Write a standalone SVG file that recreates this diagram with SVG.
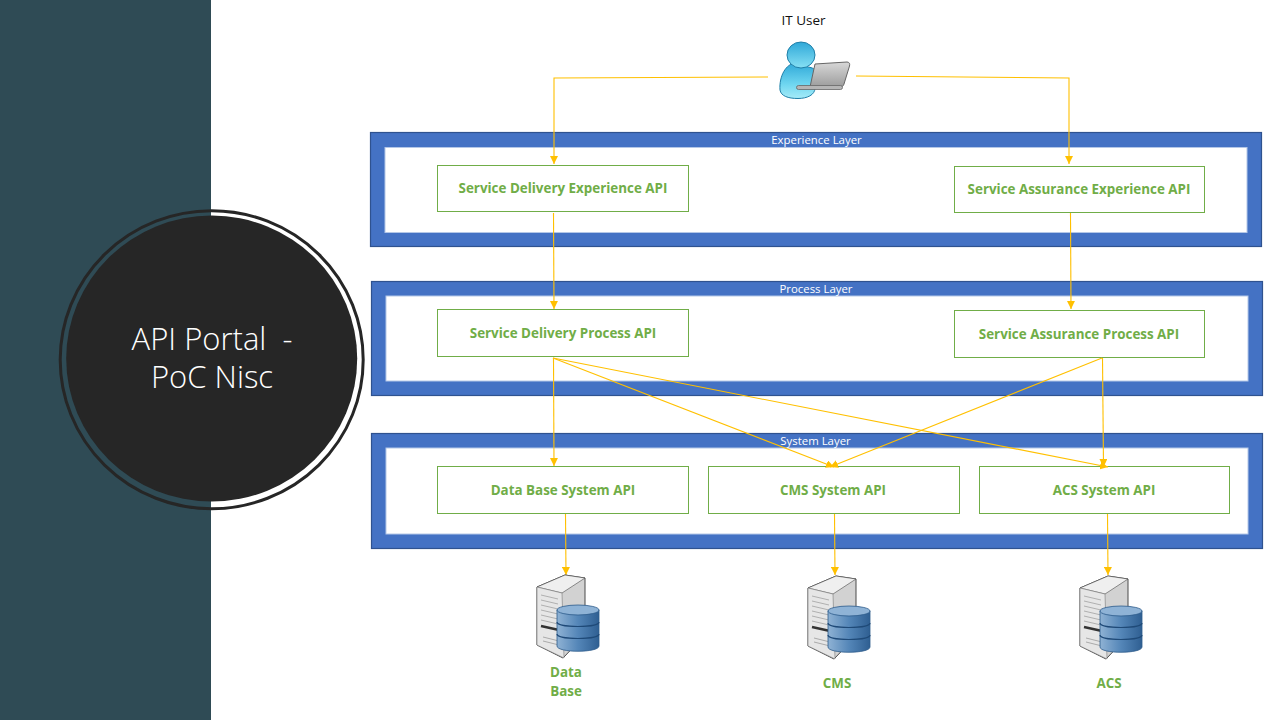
<svg xmlns="http://www.w3.org/2000/svg" width="1280" height="720" viewBox="0 0 1280 720">
<style>
.layer{fill:#4472c4;stroke:#2f528f;stroke-width:1.2}
.inner{fill:#fff;stroke:#b4c7e7;stroke-width:1}
.api{fill:#fff;stroke:#70ad47;stroke-width:1}
.lt{font:400 11.400px "Open Sans","Noto Sans",sans-serif;fill:#fff;text-anchor:middle}
.gt{font:700 13.400px "Open Sans","Noto Sans",sans-serif;fill:#70ad47;text-anchor:middle}
.c{fill:none;stroke:#ffc000;stroke-width:1.100}
</style>
<defs>
<marker id="a" markerUnits="userSpaceOnUse" markerWidth="9" markerHeight="8" refX="8" refY="4" orient="auto"><path d="M0 0L8 4L0 8z" fill="#ffc000"/></marker>
<linearGradient id="body" x1="0" y1="0" x2="0" y2="1"><stop offset="0" stop-color="#2fa8d8"/><stop offset=".6" stop-color="#6fd6f0"/><stop offset="1" stop-color="#a5ebf8"/></linearGradient>
<linearGradient id="head" x1="0" y1="0" x2="0" y2="1"><stop offset="0" stop-color="#2fa8d8"/><stop offset="1" stop-color="#86e0f4"/></linearGradient>
<linearGradient id="lap" x1="0" y1="0" x2="0" y2="1"><stop offset="0" stop-color="#d8d8d8"/><stop offset="1" stop-color="#9c9c9c"/></linearGradient>
<linearGradient id="disk" x1="0" y1="0" x2="1" y2="0"><stop offset="0" stop-color="#8fb2d4"/><stop offset=".5" stop-color="#5486b8"/><stop offset="1" stop-color="#2f5f92"/></linearGradient>
<g id="server">
<path d="M2 12L30 0L50 3L50 60L28 83L2 70z" fill="#d2d2d2" stroke="#4a4a4a" stroke-width="1"/>
<path d="M2 12L30 0L50 3L27 18z" fill="#efefef" stroke="#4a4a4a" stroke-width=".6"/>
<path d="M2 12L27 18L29 83L2 70z" fill="#e6e6e6" stroke="#777" stroke-width=".6"/>
<path d="M6 20L23 24M6 25L23 29M6 30L23 34M6 35L23 39M6 40L23 44M6 45L23 49" stroke="#b0b0b0" fill="none"/>
<path d="M6 51L24 55" stroke="#333" stroke-width="2.500" fill="none"/>
<path d="M8 62L24 66M8 66L24 70" stroke="#aaa" fill="none"/>
<g stroke="#2c5a8a" stroke-width=".8">
<path d="M22 35V71C22 78 64 78 64 71V35z" fill="url(#disk)"/>
<ellipse cx="43" cy="35" rx="21" ry="5" fill="#8fb3d6"/>
<path d="M22 47C22 53 64 53 64 47M22 59C22 65 64 65 64 59" fill="none" stroke="#1f4a78" stroke-width="1.200"/>
</g>
</g>
</defs>
<rect id="background" width="1280" height="720" fill="#fff"/>
<rect id="sidebar" width="211" height="720" fill="#2f4b55"/>
<g id="title">
<ellipse cx="211.700" cy="359.700" rx="151.500" ry="149" fill="none" stroke="#262626" stroke-width="3"/>
<ellipse cx="211.700" cy="358.600" rx="145.500" ry="143" fill="#262626"/>
<text x="212" y="350" font-family="'Open Sans','Noto Sans',sans-serif" font-weight="300" font-size="31" fill="#fff" text-anchor="middle" xml:space="preserve">API Portal  -</text>
<text x="212" y="388" font-family="'Open Sans','Noto Sans',sans-serif" font-weight="300" font-size="31" fill="#fff" text-anchor="middle">PoC Nisc</text>
</g>
<g id="experience-layer">
<rect class="layer" x="370.500" y="132.500" width="891" height="114"/>
<rect class="inner" x="385" y="147.500" width="862" height="85"/>
<text class="lt" x="816.500" y="144">Experience Layer</text>
</g>
<g id="process-layer">
<rect class="layer" x="371.500" y="281.500" width="891" height="114"/>
<rect class="inner" x="386" y="296" width="862" height="85"/>
<text class="lt" x="816" y="293">Process Layer</text>
</g>
<g id="system-layer">
<rect class="layer" x="371.500" y="433.500" width="891" height="115"/>
<rect class="inner" x="386" y="448" width="862" height="86"/>
<text class="lt" x="815.500" y="445">System Layer</text>
</g>
<g id="api-sd-exp"><rect class="api" x="437.500" y="165.500" width="251" height="46"/><text class="gt" x="563" y="193">Service Delivery Experience API</text></g>
<g id="api-sa-exp"><rect class="api" x="954.500" y="166.500" width="250" height="46"/><text class="gt" x="1079" y="194">Service Assurance Experience API</text></g>
<g id="api-sd-proc"><rect class="api" x="437.500" y="309.500" width="251" height="47"/><text class="gt" x="563" y="338">Service Delivery Process API</text></g>
<g id="api-sa-proc"><rect class="api" x="954.500" y="310.500" width="250" height="47"/><text class="gt" x="1079" y="339">Service Assurance Process API</text></g>
<g id="api-db"><rect class="api" x="437.500" y="466.500" width="251" height="47"/><text class="gt" x="563" y="495">Data Base System API</text></g>
<g id="api-cms"><rect class="api" x="708.500" y="466.500" width="251" height="47"/><text class="gt" x="833" y="495">CMS System API</text></g>
<g id="api-acs"><rect class="api" x="979.500" y="466.500" width="250" height="47"/><text class="gt" x="1104" y="495">ACS System API</text></g>
<g id="connectors">
<path class="c" marker-end="url(#a)" d="M768 77L554 78V164"/>
<path class="c" marker-end="url(#a)" d="M856 76L1069 78V164"/>
<path class="c" marker-end="url(#a)" d="M553.500 213L554 309"/>
<path class="c" marker-end="url(#a)" d="M1070.500 213L1071 309"/>
<path class="c" marker-end="url(#a)" d="M553.500 358L554 466"/>
<path class="c" marker-end="url(#a)" d="M553 358L834 467"/>
<path class="c" marker-end="url(#a)" d="M553 358L1108 467"/>
<path class="c" marker-end="url(#a)" d="M1102 358L830 467"/>
<path class="c" marker-end="url(#a)" d="M1102.500 358L1103.500 467"/>
<path class="c" marker-end="url(#a)" d="M565.500 514L566 575"/>
<path class="c" marker-end="url(#a)" d="M834.500 514L835 575"/>
<path class="c" marker-end="url(#a)" d="M1107.500 514L1108 575"/>
</g>
<g id="it-user">
<text x="803.500" y="25" font-family="'Open Sans','Noto Sans',sans-serif" font-size="13.500" fill="#111" text-anchor="middle">IT User</text>
<path d="M780 90C779 76 786 64 795 63C805 68 812 66 815 70L815 88C815 95 807 98.500 798 98.500C788 98.500 781 96 780 90z" fill="url(#body)" stroke="#1f7fa8" stroke-width="1"/>
<ellipse cx="801" cy="55" rx="14" ry="13" fill="url(#head)" stroke="#1f7fa8" stroke-width="1"/>
<path d="M815 64L847 62C849.500 62 850 64 849.500 66L844 84C843.500 86 842 87 840 87H810z" fill="url(#lap)" stroke="#666" stroke-width="1"/>
<rect x="796.500" y="85.500" width="46" height="4" rx="2" fill="#b5b5b5" stroke="#666" stroke-width=".8"/>
</g>
<g id="db-data"><use href="#server" x="535" y="575"/><text class="gt" x="566" y="677">Data</text><text class="gt" x="566" y="696">Base</text></g>
<g id="db-cms"><use href="#server" x="806" y="576"/><text class="gt" x="837" y="688">CMS</text></g>
<g id="db-acs"><use href="#server" x="1078" y="576"/><text class="gt" x="1109" y="688">ACS</text></g>
</svg>
